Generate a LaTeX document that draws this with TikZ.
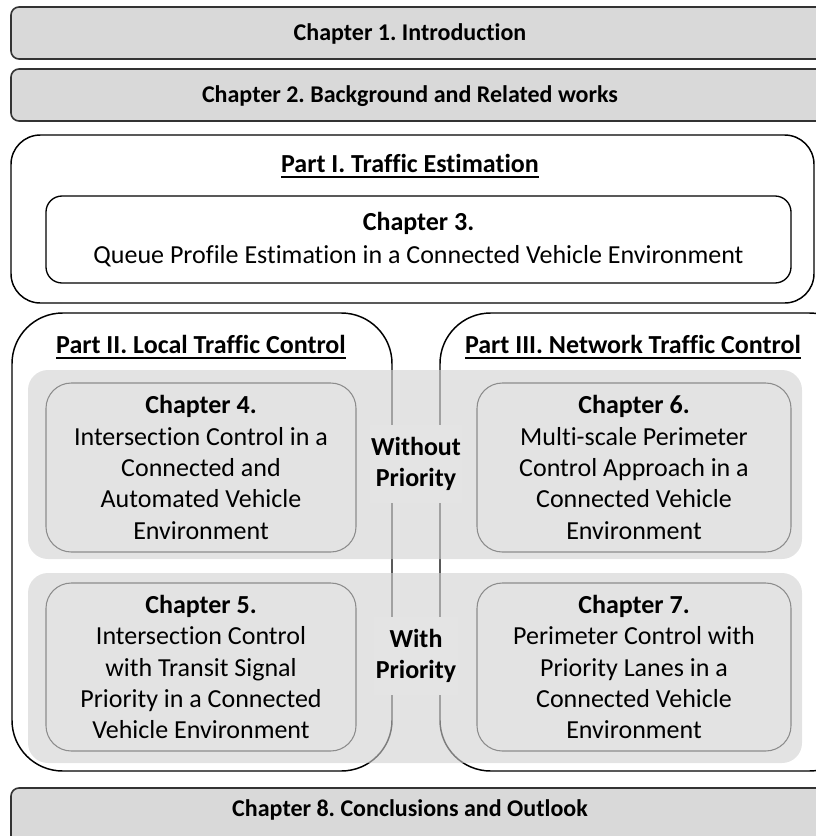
\documentclass[tikz,border=0pt]{standalone}
\usepackage{fontspec}
\setmainfont{Carlito}[Ligatures={NoCommon}]
\usetikzlibrary{fit}
\frenchspacing
\definecolor{hdrgray}{RGB}{217,217,217}
\definecolor{bandmix}{RGB}{228,228,228}
\definecolor{bandbase}{RGB}{209,209,209}
\definecolor{chborder}{RGB}{140,140,140}
\newcommand\myul[1]{\setbox0\hbox{#1}\rlap{\raisebox{-3.6pt}{\rule{\wd0}{1.1pt}}}\box0}
\begin{document}
\begin{tikzpicture}[x=0.75pt,y=-0.75pt,
  txt/.style={font=\fontsize{19.5}{23.6}\selectfont, align=center, inner sep=0pt},
  hdrtxt/.style={font=\fontsize{18}{22}\selectfont\bfseries, inner sep=0pt},
  hdrbox/.style={draw=black!80, line width=1.2pt, fill=hdrgray, rounded corners=6pt, inner sep=0pt},
  partbox/.style={draw=black, line width=1.1pt, rounded corners=#1, inner sep=0pt},
  band/.style={fill=bandbase, fill opacity=0.6, draw=none, rounded corners=15pt, inner sep=0pt},
  chbox/.style={draw=chborder, line width=0.8pt, rounded corners=19pt, inner sep=0pt},
  prio/.style={txt, font=\fontsize{19.5}{23.6}\selectfont\bfseries, fill=bandmix, inner xsep=1pt, inner ysep=#1}
]
\useasboundingbox (0,0) rectangle (816,836);
\clip (0,0) rectangle (816,836);

% top chapters
\node[hdrbox, fit={(11,7) (840,59)}] (c1box) {};
\node[hdrtxt] (c1) at (410,34) {Chapter 1. Introduction};
\node[hdrbox, fit={(11,69) (840,121)}] (c2box) {};
\node[hdrtxt] (c2) at (410,96) {Chapter 2. Background and Related works};

% Part I
\node[partbox=22pt, fit={(11,135) (814,303)}] (p1) {};
\node[txt] (p1t) at (410,166) {\textbf{\myul{Part I. Traffic Estimation}}};
\node[partbox=12pt, line width=1pt, fit={(46,196) (791,283)}] (c3box) {};
\node[txt, font=\fontsize{19.5}{24.6}\selectfont] (c3) at (c3box.center)
  {\textbf{Chapter 3.}\\Queue Profile Estimation in a Connected Vehicle Environment};

% Part II and III outlines
\node[partbox=38pt, fit={(12,313) (392,771)}] (p2) {};
\node[partbox=38pt, fit={(440,313) (860,771)}] (p3) {};
\node[txt] (p2t) at (201,347) {\textbf{\myul{Part II. Local Traffic Control}}};
\node[txt] (p3t) at (633,347) {\textbf{\myul{Part III. Network Traffic Control}}};

% bands (semi-transparent)
\node[band, fit={(28,370) (802,559)}] (b1) {};
\node[band, fit={(28,573) (802,763)}] (b2) {};

% chapter boxes
\node[chbox, fit={(46,383) (356,552)}] (c4box) {};
\node[txt] (c4) at (c4box.center)
  {\textbf{Chapter 4.}\\Intersection Control in a\\Connected and\\Automated Vehicle\\Environment};
\node[chbox, fit={(477,383) (791,552)}] (c6box) {};
\node[txt] (c6) at (c6box.center)
  {\textbf{Chapter 6.}\\Multi-scale Perimeter\\Control Approach in a\\Connected Vehicle\\Environment};
\node[chbox, fit={(46,583) (356,751)}] (c5box) {};
\node[txt] (c5) at (c5box.center)
  {\textbf{Chapter 5.}\\Intersection Control\\with Transit Signal\\Priority in a Connected\\Vehicle Environment};
\node[chbox, fit={(477,583) (791,751)}] (c7box) {};
\node[txt] (c7) at (c7box.center)
  {\textbf{Chapter 7.}\\Perimeter Control with\\Priority Lanes in a\\Connected Vehicle\\Environment};

% priority labels
\node[prio=9pt] (wo) at (416,464) {Without\\Priority};
\node[prio=9pt] (w) at (416,656) {With\\Priority};

% bottom chapter
\node[hdrbox, fit={(11,788) (840,850)}] (c8box) {};
\node[hdrtxt] (c8) at (410,810) {Chapter 8. Conclusions and Outlook};
\end{tikzpicture}
\end{document}
